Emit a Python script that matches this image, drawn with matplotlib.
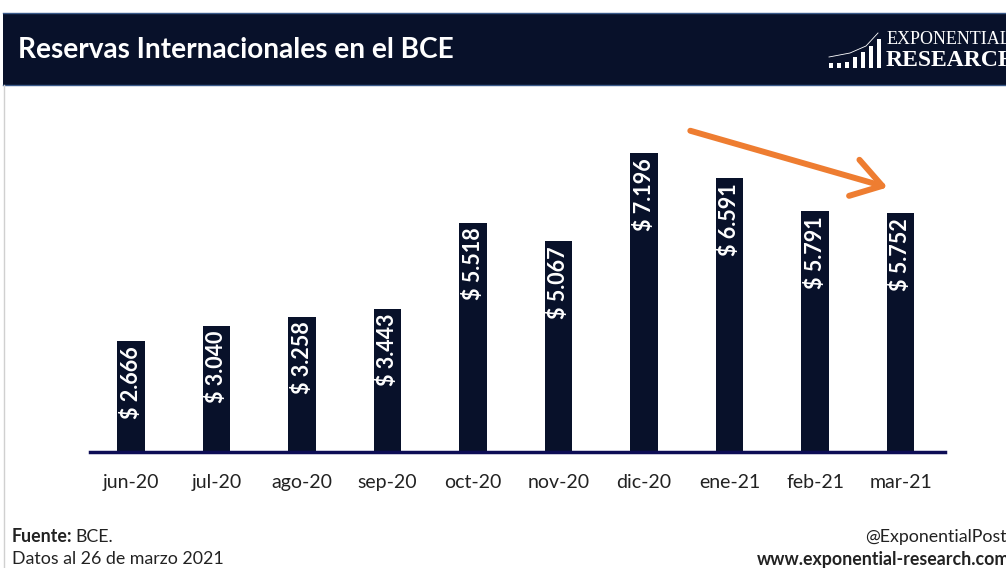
import matplotlib
matplotlib.use("Agg")
import matplotlib.pyplot as plt
from matplotlib.patches import Rectangle, FancyArrowPatch
from matplotlib.lines import Line2D
from matplotlib.transforms import offset_copy

categories = ["jun-20", "jul-20", "ago-20", "sep-20", "oct-20", "nov-20",
              "dic-20", "ene-21", "feb-21", "mar-21"]
values = [2.666, 3.040, 3.258, 3.443, 5.518, 5.067, 7.196, 6.591, 5.791, 5.752]
labels = ["$ 2.666", "$ 3.040", "$ 3.258", "$ 3.443", "$ 5.518", "$ 5.067",
          "$ 7.196", "$ 6.591", "$ 5.791", "$ 5.752"]
title = "Reservas Internacionales en el BCE"

W, H = 1006, 568
NAVY = "#08112a"
FONT = "Lato"

fig = plt.figure(figsize=(W / 100, H / 100), dpi=100)
fig.patch.set_facecolor("white")

def fx(x):
    return x / W

def fy(y):
    return 1 - y / H

# Header band
fig.patches.append(Rectangle((fx(3), fy(85)), fx(W - 3), (72) / H,
                             transform=fig.transFigure, facecolor=NAVY,
                             edgecolor="none", zorder=0))
fig.add_artist(Line2D([fx(3), 1], [fy(13), fy(13)], color="#3a5a8a", lw=1))
fig.add_artist(Line2D([fx(3), 1], [fy(85), fy(85)], color="#3a5a8a", lw=1))
fig.add_artist(Line2D([fx(3.5), fx(3.5)], [fy(85), 0], color="#d0d0d0", lw=1))

fig.text(fx(18), fy(50), title, color="white", fontsize=20.2, fontweight="bold",
         family=FONT, va="center", ha="left")

# Logo
bar_specs = [(829, 63), (837, 63), (845, 62), (853, 57), (861, 52), (869, 46)]
for bx, top in bar_specs:
    fig.patches.append(Rectangle((fx(bx), fy(68)), 4 / W, (68 - top) / H,
                                 transform=fig.transFigure, facecolor="white",
                                 edgecolor="none"))
fig.patches.append(Rectangle((fx(877), fy(68)), 4 / W, (68 - 39) / H,
                             transform=fig.transFigure, facecolor="white",
                             edgecolor="none"))
fig.add_artist(Line2D([fx(829), fx(850), fx(866), fx(878)],
                      [fy(57), fy(53), fy(46), fy(33)], color="white", lw=0.6))
fig.text(fx(887), fy(40), "EXPONENTIAL", color="white", fontsize=13,
         family="Liberation Serif", va="center", ha="left")
fig.text(fx(886), fy(60), "RESEARCH", color="white", fontsize=17,
         fontweight="bold", family="Liberation Serif", va="center", ha="left")

# Plot axes
ax_left, ax_right = 90, 945
ax_bottom, ax_top = 452, 110
ax = fig.add_axes([fx(ax_left), fy(ax_bottom), (ax_right - ax_left) / W,
                   (ax_bottom - ax_top) / H])
ax.set_facecolor("none")
x = list(range(len(categories)))
ax.bar(x, values, width=0.32, color=NAVY, zorder=2)
ax.set_xlim(-0.48, 9.52)
ax.set_ylim(0, (ax_bottom - ax_top) / 41.55)
for s in ["top", "right", "left"]:
    ax.spines[s].set_visible(False)
ax.spines["bottom"].set_color("#0d0d55")
ax.spines["bottom"].set_linewidth(2.5)
ax.spines["bottom"].set_zorder(3)
ax.set_yticks([])
ax.set_xticks(x)
ax.set_xticklabels(categories, fontsize=14, family=FONT, color="#222222")
ax.tick_params(axis="x", length=0, pad=16)

tr = offset_copy(ax.transData, fig=fig, x=0, y=-5, units="dots")
for xi, v, lab in zip(x, values, labels):
    ax.text(xi, v, lab, rotation=90, color="white", fontsize=15.5,
            fontweight="bold", family=FONT, ha="center", va="top",
            transform=tr, zorder=4)

# Trend arrow
arrow = FancyArrowPatch((6.51, 7.75), (8.88, 6.35),
                        arrowstyle="->,head_length=7,head_width=4.5",
                        color="#ee7d31", lw=4.3, mutation_scale=3,
                        capstyle="round", joinstyle="round", zorder=5)
ax.add_patch(arrow)

# Footer
FS = 12.8
fig.text(fx(12), fy(537), "Fuente:", fontsize=FS, fontweight="bold",
         family=FONT, color="#222222", va="center", ha="left")
fig.text(fx(75), fy(537), "BCE.", fontsize=FS, family=FONT, color="#222222",
         va="center", ha="left")
fig.text(fx(12), fy(559), "Datos al 26 de marzo 2021", fontsize=FS,
         family=FONT, color="#222222", va="center", ha="left")
fig.text(fx(1007), fy(537), "@ExponentialPost", fontsize=FS, family=FONT,
         color="#222222", va="center", ha="right")
fig.text(fx(1010), fy(559), "www.exponential-research.com", fontsize=FS,
         fontweight="bold", family=FONT, color="#222222", va="center", ha="right")

fig.savefig("out.png", dpi=100, facecolor="white")
